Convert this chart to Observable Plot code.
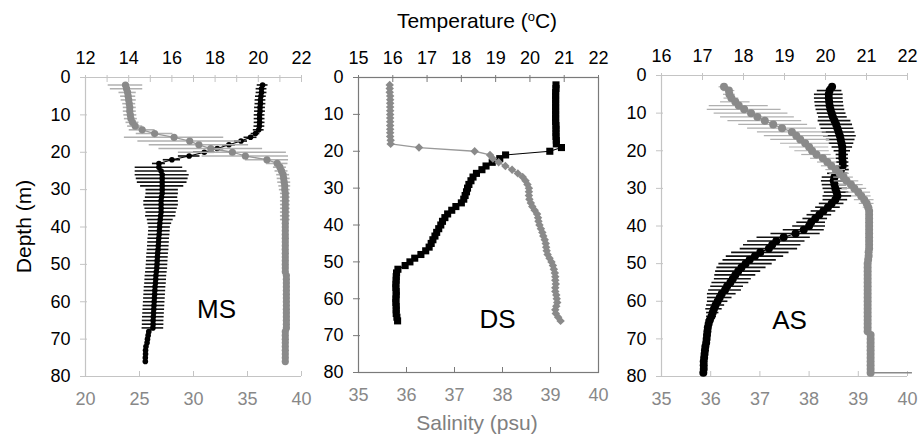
<!DOCTYPE html>
<html>
<head>
<meta charset="utf-8">
<script src="https://cdn.jsdelivr.net/npm/d3@7"></script>
<script src="https://cdn.jsdelivr.net/npm/@observablehq/plot@0.6"></script>
<style>
html, body { margin: 0; padding: 0; background: #fff; }
#wrap { position: relative; width: 919px; height: 439px; overflow: hidden; font-family: "Liberation Sans", Arial, Helvetica, sans-serif; }
#wrap svg { position: absolute; left: 0; top: 0; background: transparent !important; max-width: none !important; }
.ttl { position: absolute; font-size: 21px; line-height: 1; text-align: center; white-space: nowrap; }
.ttl sup { font-size: 13px; vertical-align: 7px; line-height: 0; }
</style>
</head>
<body>
<div id="wrap"></div>
<script>
// ---------- shared ----------
const depthDomain = [0, 80];
const depthTicks = [0, 10, 20, 30, 40, 50, 60, 70, 80];
const panelNames = ["MS", "DS", "AS"];

// ---------- MS ----------
const msTempTicks = [12, 14, 16, 18, 20, 22];
const msTempMinor = [12, 13, 14, 15, 16, 17, 18, 19, 20, 21, 22];
const msSalTicks = [20, 25, 30, 35, 40];
const msDepth = [2,3,4,5,6,7,8,9,10,11,12,13,14,15,16,17,18,19,20,21,22,23,24,25,26,27,28,29,30,31,32,33,34,35,36,37,38,39,40,41,42,43,44,45,46,47,48,49,50,51,52,53,54,55,56,57,58,59,60,61,62,63,64,65,66,67,68,69,70,71,72,73,74,75,76];
const msTemp = [20.2,20.15,20.15,20.12,20.1,20.1,20.08,20.08,20.06,20.06,20.06,20.05,20.02,19.87,19.64,19.2,18.64,18.1,17.5,16.8,16.0,15.4,15.4,15.5,15.55,15.55,15.55,15.55,15.55,15.55,15.52,15.5,15.5,15.5,15.5,15.48,15.46,15.44,15.43,15.42,15.41,15.39,15.38,15.37,15.36,15.34,15.33,15.32,15.31,15.3,15.28,15.26,15.25,15.24,15.22,15.21,15.2,15.19,15.18,15.17,15.16,15.15,15.14,15.13,15.13,15.12,14.93,14.9,14.87,14.85,14.8,14.78,14.78,14.77,14.77];
const msTempErr = [0.25,0.25,0.25,0.25,0.25,0.25,0.25,0.25,0.25,0.25,0.25,0.25,0.25,0.2,0.3,0.3,0.3,0.3,0.5,0.5,0.4,0.3,1.1,1.2,1.25,1.2,1.15,1.0,0.75,0.75,0.75,0.8,0.8,0.75,0.7,0.7,0.6,0.55,0.5,0.5,0.5,0.5,0.5,0.5,0.5,0.5,0.5,0.5,0.5,0.5,0.5,0.5,0.5,0.5,0.5,0.5,0.5,0.5,0.5,0.5,0.5,0.5,0.5,0.5,0.5,0.5,0,0,0,0,0,0,0,0,0];
const msSal = [23.7,23.8,23.9,23.95,24.0,24.05,24.1,24.1,24.15,24.2,24.35,24.6,25.25,26.4,28.2,29.65,30.5,31.6,33.6,34.8,36.8,37.75,38.0,38.15,38.3,38.35,38.4,38.45,38.45,38.5,38.5,38.5,38.5,38.5,38.5,38.5,38.5,38.5,38.5,38.5,38.5,38.5,38.5,38.5,38.5,38.5,38.5,38.5,38.5,38.5,38.5,38.6,38.6,38.6,38.6,38.6,38.6,38.6,38.6,38.6,38.6,38.6,38.6,38.6,38.6,38.6,38.5,38.5,38.5,38.5,38.5,38.5,38.5,38.5,38.5];
const msSalErr = [1.6,1.5,0.8,0.7,0.7,0.6,0.6,0.6,0.6,0.6,0.6,0.7,1.2,1.7,4.6,4.8,4.6,4.8,5.0,4.0,2.0,1.0,0.6,0.6,0.6,0.6,0.6,0.55,0.5,0.45,0.45,0.45,0.45,0.45,0.45,0.45,0.45,0.2,0.2,0.2,0.2,0.2,0.2,0.2,0.2,0.2,0.2,0.2,0.2,0.2,0.2,0.2,0.2,0.2,0.2,0.2,0.2,0.2,0.2,0.2,0.2,0.2,0.2,0.2,0.2,0.2,0.1,0.1,0.1,0.1,0.1,0.1,0.1,0.1,0.1];

// ---------- DS ----------
const dsTempTicks = [15, 16, 17, 18, 19, 20, 21, 22];
const dsSalTicks = [35, 36, 37, 38, 39, 40];
const dsDepth = [2,3,4,5,6,7,8,9,10,11,12,13,14,15,16,17,18,19,20,21,22,23,24,25,26,27,28,29,30,31,32,33,34,35,36,37,38,39,40,41,42,43,44,45,46,47,48,49,50,51,52,53,54,55,56,57,58,59,60,61,62,63,64,65,66];
const dsTemp = [20.76,20.76,20.75,20.75,20.75,20.75,20.75,20.75,20.75,20.75,20.75,20.76,20.76,20.76,20.76,20.77,20.77,20.92,20.58,19.29,19.12,18.9,18.72,18.6,18.44,18.34,18.28,18.22,18.18,18.15,18.11,18.07,18.0,17.84,17.72,17.6,17.52,17.45,17.4,17.34,17.28,17.23,17.17,17.12,17.06,16.96,16.82,16.64,16.5,16.36,16.15,16.11,16.1,16.1,16.09,16.09,16.1,16.1,16.09,16.09,16.1,16.1,16.1,16.12,16.14];
const dsSal = [35.65,35.65,35.65,35.66,35.66,35.66,35.66,35.66,35.66,35.66,35.66,35.66,35.66,35.66,35.66,35.67,35.67,36.26,37.42,37.74,37.8,37.92,38.06,38.2,38.32,38.42,38.48,38.52,38.55,38.55,38.55,38.56,38.59,38.62,38.67,38.72,38.74,38.75,38.77,38.8,38.83,38.85,38.88,38.9,38.91,38.92,38.94,38.98,39.02,39.05,39.07,39.09,39.1,39.1,39.11,39.1,39.1,39.12,39.13,39.14,39.12,39.1,39.11,39.16,39.21];

// ---------- AS ----------
const asTempTicks = [16, 17, 18, 19, 20, 21, 22];
const asSalTicks = [35, 36, 37, 38, 39, 40];
const asDepth = [3,4,5,6,7,8,9,10,11,12,13,14,15,16,17,18,19,20,21,22,23,24,25,26,27,28,29,30,31,32,33,34,35,36,37,38,39,40,41,42,43,44,45,46,47,48,49,50,51,52,53,54,55,56,57,58,59,60,61,62,63,64,65,66,67,68,69,70,71,72,73,74,75,76,77,78,79];
const asTemp = [20.16,20.1,20.08,20.08,20.09,20.1,20.12,20.15,20.18,20.22,20.26,20.29,20.32,20.35,20.37,20.39,20.41,20.41,20.41,20.41,20.42,20.42,20.38,20.3,20.22,20.2,20.22,20.24,20.27,20.29,20.24,20.15,20.06,19.95,19.85,19.75,19.65,19.6,19.47,19.27,18.98,18.8,18.7,18.62,18.41,18.28,18.15,18.05,17.95,17.87,17.8,17.74,17.68,17.6,17.55,17.47,17.42,17.37,17.32,17.28,17.25,17.22,17.18,17.15,17.13,17.12,17.11,17.1,17.09,17.07,17.06,17.05,17.04,17.03,17.03,17.03,17.02];
const asTempErr = [0.1,0.3,0.35,0.35,0.35,0.35,0.35,0.35,0.35,0.4,0.4,0.4,0.4,0.4,0.35,0.3,0.25,0.2,0.15,0.15,0.15,0.15,0.2,0.25,0.3,0.3,0.3,0.3,0.3,0.35,0.3,0.3,0.3,0.3,0.3,0.3,0.35,0.4,0.5,0.6,0.65,0.7,0.7,0.7,0.7,0.7,0.65,0.65,0.6,0.55,0.5,0.45,0.45,0.4,0.4,0.35,0.3,0.25,0.22,0.2,0.15,0.12,0.1,0.05,0,0,0,0,0,0,0,0,0,0,0,0,0];
const asSal = [36.27,36.37,36.38,36.42,36.5,36.57,36.68,36.82,36.95,37.1,37.27,37.45,37.65,37.74,37.82,37.92,38.0,38.06,38.15,38.28,38.37,38.45,38.54,38.62,38.7,38.76,38.85,38.92,39.0,39.06,39.12,39.17,39.2,39.22,39.22,39.22,39.22,39.22,39.22,39.22,39.22,39.22,39.22,39.22,39.21,39.21,39.2,39.19,39.19,39.19,39.19,39.19,39.19,39.19,39.19,39.19,39.19,39.19,39.19,39.19,39.19,39.19,39.19,39.19,39.19,39.19,39.25,39.25,39.25,39.25,39.25,39.25,39.25,39.25,39.25,39.25,39.25];
const asSalErr = [0.1,0.12,0.12,0.15,0.3,0.6,0.75,0.75,0.75,0.75,0.7,0.7,0.7,0.65,0.6,0.5,0.4,0.35,0.3,0.25,0.2,0.2,0.2,0.2,0.2,0.25,0.25,0.25,0.25,0.2,0.2,0.15,0.1,0.05,0.05,0.05,0.05,0.05,0.05,0.05,0.05,0.05,0.05,0.05,0.05,0.05,0.05,0.05,0.05,0.05,0.05,0.05,0.05,0.05,0.05,0.05,0.05,0.05,0.05,0.05,0.05,0.05,0.05,0.05,0.05,0.05,0.05,0.05,0.05,0.05,0.05,0.05,0.05,0.05,0.05,0.05,0.05];
const asSalTailDepth = [79];
const asSalTailFrom = [39.25];
const asSalTailTo = [40.1];

// ---------- drawing ----------
const W = 919, H = 439;
const FONT = '"Liberation Sans", Arial, Helvetica, sans-serif';
const BLACK = "#000", GRAY = "#8a8a8a", GRAYBAR = "#b0b0b0", AXIS = "#c4c4c4";
const TICKFS = 18;
const fmt = d => String(d);

function rowsOf(depth, val, err) {
  return depth.map((d, i) => ({d, v: val[i], e: err ? err[i] : 0}));
}

const panels = [
  {name: panelNames[0], box: [85, 301, 77, 376], boxed: false,
   tDomain: [12, 22], tLabels: msTempTicks, tMinor: msTempMinor,
   sDomain: [20, 40], sLabels: msSalTicks, sMinor: msSalTicks,
   tRows: rowsOf(msDepth, msTemp, msTempErr), sRows: rowsOf(msDepth, msSal, msSalErr),
   tSym: "circle", tR: 2.8, sSym: "circle", sR: 3.6, lab: [23, -59], sBarW: 1.6},
  {name: panelNames[1], box: [358, 598, 77, 372], boxed: true,
   tDomain: [15, 22], tLabels: dsTempTicks, tMinor: dsTempTicks,
   sDomain: [35, 40], sLabels: dsSalTicks, sMinor: dsSalTicks,
   tRows: rowsOf(dsDepth, dsTemp, null), sRows: rowsOf(dsDepth, dsSal, null),
   tSym: "square", tR: 4, sSym: "diamond2", sR: 3.8, lab: [19, -45], sBarW: 1.2},
  {name: panelNames[2], box: [661, 907, 75, 376], boxed: false,
   tDomain: [16, 22], tLabels: asTempTicks, tMinor: asTempTicks,
   sDomain: [35, 40], sLabels: asSalTicks, sMinor: asSalTicks,
   tRows: rowsOf(asDepth, asTemp, asTempErr), sRows: rowsOf(asDepth, asSal, asSalErr),
   tSym: "circle", tR: 4, sSym: "circle", sR: 4, lab: [5, -48], sBarW: 1.2,
   tail: asSalTailDepth.map((d, i) => ({d, a: asSalTailFrom[i], b: asSalTailTo[i]}))}
];

const wrap = document.getElementById("wrap");

for (const p of panels) {
  const base = {
    width: W, height: H,
    marginLeft: p.box[0], marginRight: W - p.box[1],
    marginTop: p.box[2], marginBottom: H - p.box[3],
    y: {domain: depthDomain, reverse: true, axis: null},
    style: {background: "transparent", fontFamily: FONT, fontSize: TICKFS + "px", color: "#000", overflow: "visible"}
  };
  const tickCol = p.boxed ? "#7a7a7a" : AXIS;

  const tempMarks = [
    p.boxed ? Plot.frame({stroke: "#7a7a7a", strokeWidth: 1.2}) : null,
    p.boxed ? null : Plot.ruleY(depthDomain, {stroke: AXIS, strokeWidth: 1.2}),
    p.boxed ? null : Plot.ruleX([p.tDomain[0]], {stroke: AXIS, strokeWidth: 1.2}),
    Plot.axisX({anchor: "top", ticks: p.tMinor, tickSize: 7, dy: 4, stroke: tickCol, fill: "none", label: null}),
    Plot.axisX({anchor: "top", ticks: p.tLabels, tickFormat: fmt, tickSize: 0, tickPadding: 14, fill: "#000", fontSize: TICKFS, label: null}),
    Plot.axisY({anchor: "left", ticks: depthTicks, tickSize: 7, dx: 2, stroke: tickCol, fill: "none", label: null}),
    Plot.axisY({anchor: "left", ticks: depthTicks, tickFormat: fmt, tickSize: 0, tickPadding: 15, fill: "#000", fontSize: TICKFS, label: null}),
    Plot.ruleY(p.tRows.filter(r => r.e > 0), {y: "d", x1: r => r.v - r.e, x2: r => r.v + r.e, stroke: "#111", strokeWidth: 1.6}),
    Plot.line(p.tRows, {x: "v", y: "d", stroke: BLACK, strokeWidth: 1.1}),
    Plot.dot(p.tRows, {x: "v", y: "d", r: p.tR, symbol: p.tSym, fill: BLACK, stroke: null}),
    Plot.text([p.name], {text: d => d, frameAnchor: "bottom", dx: p.lab[0], dy: p.lab[1], fontSize: 26, fill: "#000"})
  ];
  const tempSvg = Plot.plot({...base, x: {domain: p.tDomain, axis: null}, marks: tempMarks});

  const salMarks = [
    Plot.axisX({anchor: "bottom", ticks: p.sMinor, tickSize: 5, dy: -5, stroke: tickCol, fill: "none", label: null}),
    Plot.axisX({anchor: "bottom", ticks: p.sLabels, tickFormat: fmt, tickSize: 0, tickPadding: 16, fill: "#888", fontSize: TICKFS, label: null}),
    Plot.ruleY(p.sRows.filter(r => r.e > 0), {y: "d", x1: r => r.v - r.e, x2: r => r.v + r.e, stroke: GRAYBAR, strokeWidth: p.sBarW}),
    p.tail ? Plot.ruleY(p.tail, {y: "d", x1: "a", x2: "b", stroke: GRAY, strokeWidth: 1.5}) : null,
    Plot.line(p.sRows, {x: "v", y: "d", stroke: "#999", strokeWidth: 1.3}),
    Plot.dot(p.sRows, {x: "v", y: "d", r: p.sR, symbol: p.sSym, fill: GRAY, stroke: null})
  ];
  const salSvg = Plot.plot({...base, x: {domain: p.sDomain, axis: null}, marks: salMarks});

  wrap.appendChild(tempSvg);
  wrap.appendChild(salSvg);
}

function addTitle(html, left, top, width, color, rotate) {
  const el = document.createElement("div");
  el.className = "ttl";
  el.innerHTML = html;
  el.style.left = left + "px";
  el.style.top = top + "px";
  el.style.width = width + "px";
  el.style.height = "21px";
  el.style.color = color;
  if (rotate) el.style.transform = "rotate(-90deg)";
  wrap.appendChild(el);
}
addTitle("Temperature (<sup>o</sup>C)", 377, 10, 200, "#000", false);
addTitle("Salinity (psu)", 377, 412, 200, "#808080", false);
addTitle("Depth (m)", -77, 216, 200, "#000", true);
</script>
</body>
</html>
